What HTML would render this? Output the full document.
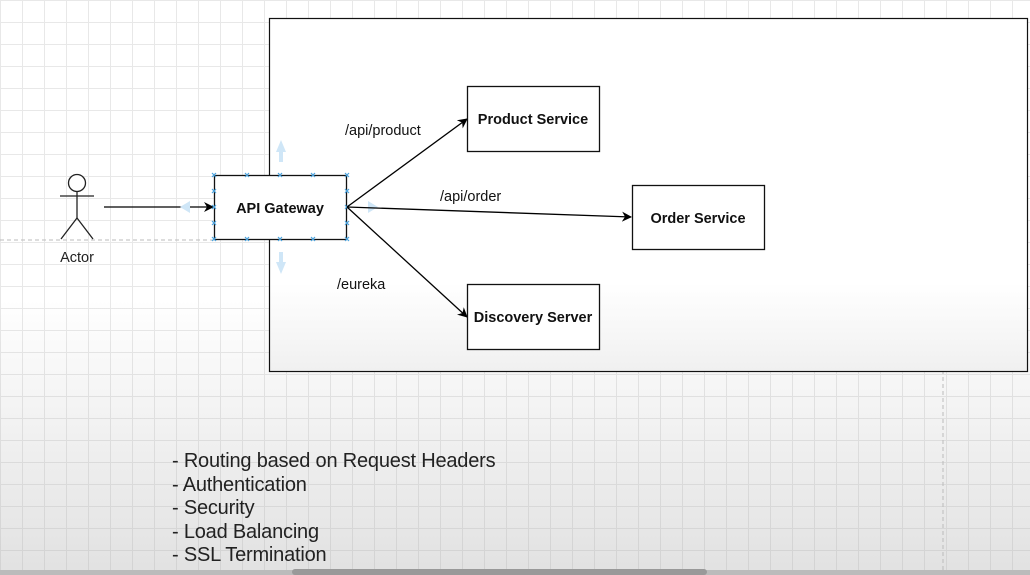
<!DOCTYPE html>
<html><head><style>
html,body{margin:0;padding:0;}
body{width:1030px;height:575px;overflow:hidden;position:relative;font-family:"Liberation Sans",sans-serif;
background:
linear-gradient(to bottom,rgba(255,255,255,0) 0,rgba(255,255,255,0) 300px,rgba(170,170,170,0.35) 575px),
repeating-linear-gradient(to right,#e8e8e8 0 1px,transparent 1px 22px),
repeating-linear-gradient(to bottom,#e8e8e8 0 1px,transparent 1px 22px),#fff;}
.list{position:absolute;left:172px;top:450px;font-size:20px;line-height:23.5px;color:#222;letter-spacing:-0.2px;}
</style></head><body>
<svg width="1030" height="575" style="position:absolute;left:0;top:0">
<defs>
<marker id="a" markerWidth="10" markerHeight="10" refX="9" refY="5" orient="auto" markerUnits="userSpaceOnUse"><path d="M0,0 L10,5 L0,10 L3,5z" fill="#000"/></marker>
<linearGradient id="g" x1="0" y1="0" x2="0" y2="1"><stop offset="0.75" stop-color="#fff"/><stop offset="1" stop-color="#f0f0f0"/></linearGradient>
</defs>
<line x1="0" y1="240" x2="214" y2="240" stroke="#bbb" stroke-dasharray="4,3"/>
<line x1="943" y1="370" x2="943" y2="575" stroke="#bbb" stroke-dasharray="4,3"/>
<rect x="269.5" y="18.5" width="758" height="353" fill="url(#g)" stroke="#111" stroke-width="1.2"/>
<g stroke="#222" stroke-width="1.3" fill="none">
<circle cx="77" cy="183" r="8.5" fill="#fff"/>
<line x1="77" y1="192" x2="77" y2="218"/>
<line x1="60" y1="196" x2="94" y2="196"/>
<line x1="77" y1="218" x2="61" y2="239"/>
<line x1="77" y1="218" x2="93" y2="239"/>
</g>
<text x="77" y="262" font-size="14.5" text-anchor="middle" fill="#222">Actor</text>
<line x1="104" y1="207" x2="213" y2="207" stroke="#000" stroke-width="1.3" marker-end="url(#a)"/>
<g fill="#cfe6f7">
<path d="M276,152 L286,152 L281,140z"/><rect x="279" y="152" width="4" height="10"/>
<path d="M276,262 L286,262 L281,274z"/><rect x="279" y="252" width="4" height="10"/>
<path d="M180,207 L190,201 L190,213z"/><path d="M378,207 L368,201 L368,213z"/>
</g>
<rect x="214.5" y="175.5" width="132" height="64" fill="#fff" stroke="#111" stroke-width="1.3"/>
<g stroke="#4aa3df" stroke-width="1.2">
<path d="M212,173l4,4M216,173l-4,4 M245,173l4,4M249,173l-4,4 M278,173l4,4M282,173l-4,4 M311,173l4,4M315,173l-4,4 M345,173l4,4M349,173l-4,4
M212,237l4,4M216,237l-4,4 M245,237l4,4M249,237l-4,4 M278,237l4,4M282,237l-4,4 M311,237l4,4M315,237l-4,4 M345,237l4,4M349,237l-4,4
M212,189l4,4M216,189l-4,4 M212,205l4,4M216,205l-4,4 M212,221l4,4M216,221l-4,4
M345,189l4,4M349,189l-4,4 M345,205l4,4M349,205l-4,4 M345,221l4,4M349,221l-4,4"/>
</g>
<text x="280" y="213" font-size="14.5" font-weight="bold" text-anchor="middle" fill="#111">API Gateway</text>
<g stroke="#000" stroke-width="1.3" marker-end="url(#a)">
<line x1="347" y1="207" x2="467" y2="119"/>
<line x1="347" y1="207" x2="631" y2="217"/>
<line x1="347" y1="207" x2="467" y2="317"/>
</g>
<text x="345" y="135" font-size="14.5" fill="#111">/api/product</text>
<text x="440" y="201" font-size="14.5" fill="#111">/api/order</text>
<text x="337" y="289" font-size="14.5" fill="#111">/eureka</text>
<g fill="#fff" stroke="#111" stroke-width="1.3">
<rect x="467.5" y="86.5" width="132" height="65"/>
<rect x="632.5" y="185.5" width="132" height="64"/>
<rect x="467.5" y="284.5" width="132" height="65"/>
</g>
<g font-size="14.5" font-weight="bold" text-anchor="middle" fill="#111">
<text x="533" y="124">Product Service</text>
<text x="698" y="223">Order Service</text>
<text x="533" y="322">Discovery Server</text>
</g>
<rect x="0" y="570" width="1030" height="5" fill="#bbb"/>
<rect x="292" y="569" width="415" height="6" rx="3" fill="#999"/>
</svg>
<div class="list">- Routing based on Request Headers<br>- Authentication<br>- Security<br>- Load Balancing<br>- SSL Termination</div>
</body></html>
